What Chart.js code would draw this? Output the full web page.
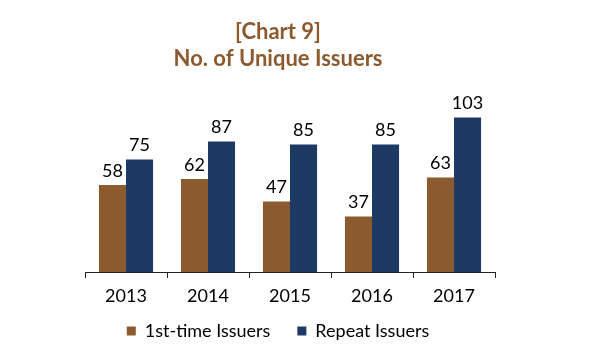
<!DOCTYPE html>
<html>
<head>
<meta charset="utf-8">
<script src="https://cdn.jsdelivr.net/npm/chart.js@4"></script>
<style>
  html, body { margin: 0; padding: 0; background: #ffffff; }
  #wrap { width: 599px; height: 360px; }
</style>
</head>
<body>
<div id="wrap"><canvas id="c" width="599" height="360"></canvas></div>
<script>
const years = ['2013', '2014', '2015', '2016', '2017'];
const firstTime = [58, 62, 47, 37, 63];
const repeat = [75, 87, 85, 85, 103];
const seriesNames = ['1st-time Issuers', 'Repeat Issuers'];
const titleLines = ['[Chart 9]', 'No. of Unique Issuers'];

const BROWN = '#8B5A2E';
const BLUE = '#1C3A64';
const FONT = 'Lato, "Open Sans", sans-serif';

const valueLabels = {
  id: 'valueLabels',
  afterDatasetsDraw(chart) {
    const ctx = chart.ctx;
    ctx.save();
    ctx.font = '18px ' + FONT;
    ctx.fillStyle = '#000000';
    ctx.textAlign = 'center';
    ctx.textBaseline = 'bottom';
    chart.data.datasets.forEach((ds, i) => {
      const meta = chart.getDatasetMeta(i);
      meta.data.forEach((el, j) => {
        ctx.fillText(String(ds.data[j]), el.x, el.y - 5);
      });
    });
    ctx.restore();
  }
};

// let the x tick labels extend into the (empty) top padding of the legend box
const xLabelRoom = {
  id: 'xLabelRoom',
  afterLayout(chart) {
    const x = chart.scales.x;
    x.bottom = x.top + 40;
    x.height = 40;
  }
};

new Chart(document.getElementById('c'), {
  type: 'bar',
  data: {
    labels: years,
    datasets: [
      { label: seriesNames[0], data: firstTime, backgroundColor: BROWN },
      { label: seriesNames[1], data: repeat, backgroundColor: BLUE }
    ]
  },
  options: {
    responsive: false,
    animation: false,
    devicePixelRatio: 1,
    layout: { padding: { left: 0, right: 43, top: 0, bottom: 10 } },
    datasets: { bar: { categoryPercentage: 0.66, barPercentage: 1.0 } },
    scales: {
      x: {
        grid: { display: true, drawOnChartArea: false, drawTicks: true, tickLength: 6, color: '#222222', offset: true },
        border: { display: true, color: '#222222', width: 1 },
        ticks: { color: '#000000', font: { family: FONT, size: 18 }, padding: 7 },
        afterFit(scale) { scale.height = 23; }
      },
      y: {
        min: 0, max: 120,
        grid: { display: false },
        border: { display: false },
        ticks: { display: false },
        afterFit(scale) { scale.width = 85; }
      },
      y2: {
        position: 'right',
        display: true,
        grid: { display: false },
        border: { display: false },
        ticks: { display: false },
        afterFit(scale) { scale.width = 61; }
      }
    },
    plugins: {
      title: {
        display: true,
        text: titleLines,
        color: BROWN,
        font: { family: FONT, size: 22, weight: 'bold', lineHeight: 1.23 },
        padding: { top: 18, bottom: 20 }
      },
      legend: {
        position: 'bottom',
        labels: {
          boxWidth: 9, boxHeight: 9,
          color: '#000000',
          font: { family: FONT, size: 18 },
          padding: 27
        }
      },
      tooltip: { enabled: false }
    }
  },
  plugins: [valueLabels, xLabelRoom]
});
</script>
</body>
</html>
